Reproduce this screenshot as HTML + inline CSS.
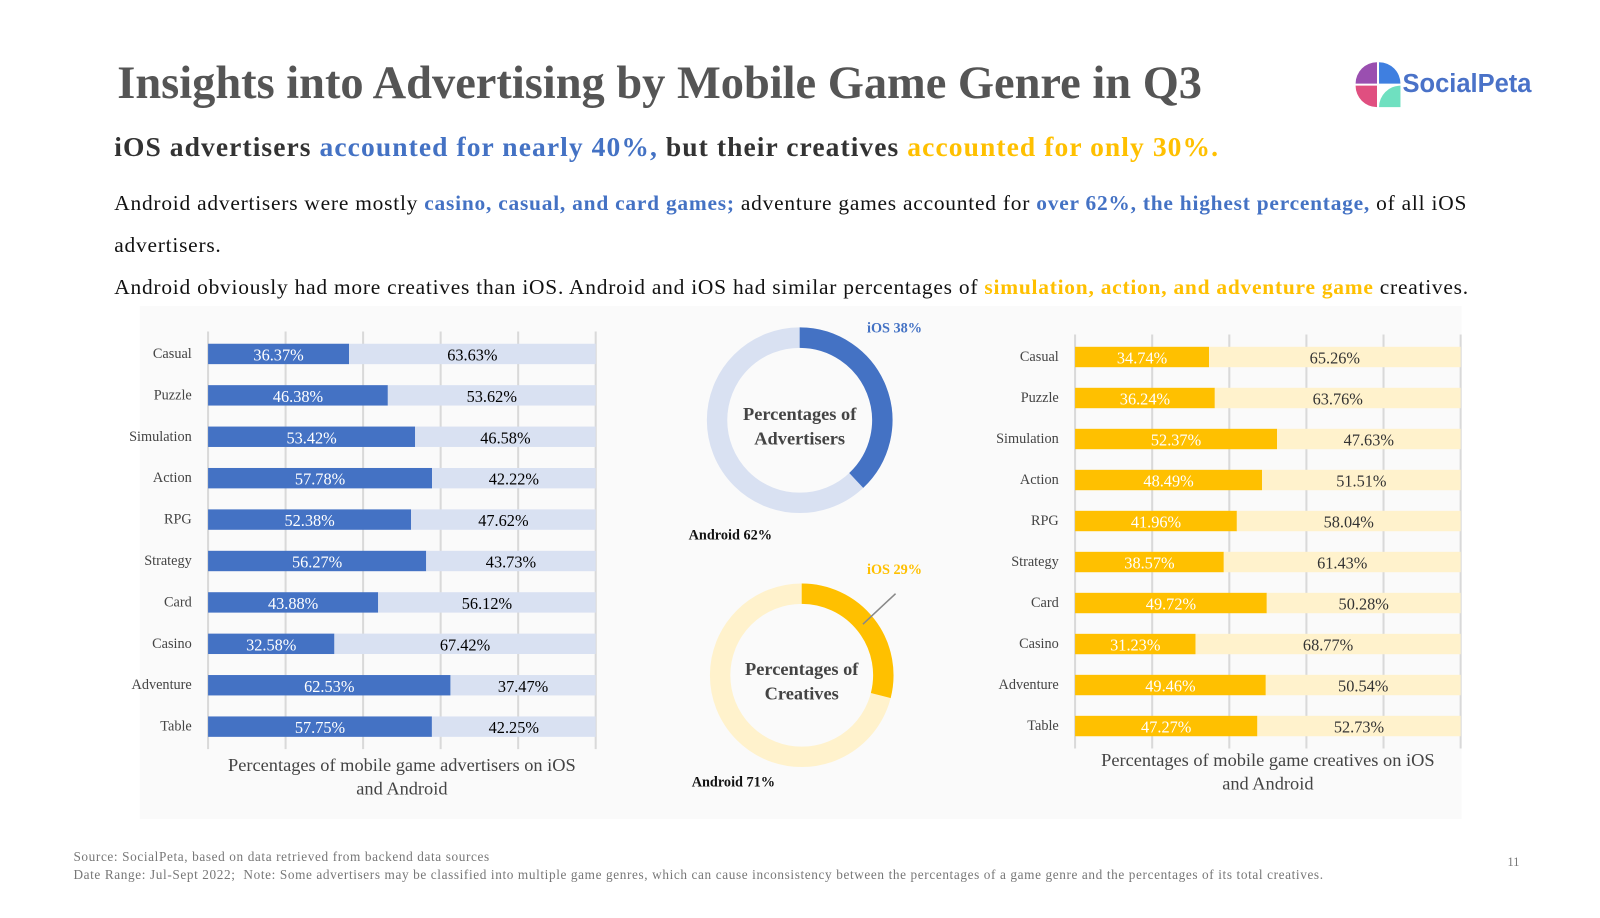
<!DOCTYPE html>
<html><head><meta charset="utf-8"><style>
body{margin:0;width:1600px;height:900px;background:#fff;font-family:"Liberation Serif",serif;overflow:hidden;position:relative}
#wrap{position:absolute;left:0;top:0;width:1600px;height:900px;transform:scale(1.02);transform-origin:0 0}
.abs{position:absolute}
.b{color:#4472c4}.y{color:#ffc000}
</style></head><body><div id="wrap">
<div class="abs" style="left:137px;top:300px;width:1296px;height:503px;background:#fafafa"></div>
<div class="abs" style="left:115px;top:54px;font-size:45.5px;font-weight:bold;color:#555">Insights into Advertising by Mobile Game Genre in Q3</div>
<div class="abs" style="left:1328px;top:60px;width:180px;height:46px">
<svg width="46" height="46" viewBox="0 0 46 46"><path d="M22 22V1A21 21 0 0 0 1 22Z" fill="#9a4fb0"/><path d="M24 22V1A21 21 0 0 1 45 22Z" fill="#3f7fe0"/><path d="M22 24H1A21 21 0 0 0 22 45Z" fill="#e04f80"/><path d="M24 24H45V45H24A21 21 0 0 1 45 24Z" fill="#6fe0c0"/></svg>
<span style="position:absolute;left:47px;top:8px;font-family:'Liberation Sans Narrow','Liberation Sans',sans-serif;font-weight:bold;font-size:25px;color:#4a72c8">SocialPeta</span></div>
<div class="abs" style="left:112px;top:129px;font-size:27px;letter-spacing:1.05px;font-weight:bold;color:#333">iOS advertisers <span class="b">accounted for nearly 40%,</span> but their creatives <span class="y">accounted for only 30%.</span></div>
<div class="abs" style="left:112px;top:179px;width:1360px;font-size:21px;letter-spacing:0.75px;line-height:41px;color:#111">Android advertisers were mostly <b class="b">casino, casual, and card games;</b> adventure games accounted for <b class="b">over 62%, the highest percentage,</b> of all iOS advertisers.<br>Android obviously had more creatives than iOS. Android and iOS had similar percentages of <b class="y">simulation, action, and adventure game</b> creatives.</div>
<svg class="abs" style="left:0;top:0" width="1600" height="900" id="svg"></svg>
<div class="abs" style="left:72px;top:831px;font-size:13px;letter-spacing:0.6px;color:#777;line-height:18px;white-space:nowrap">Source: SocialPeta, based on data retrieved from backend data sources<br>Date Range: Jul-Sept 2022;&nbsp; Note: Some advertisers may be classified into multiple game genres, which can cause inconsistency between the percentages of a game genre and the percentages of its total creatives.</div>
<div class="abs" style="left:1478px;top:838px;font-size:12px;color:#777">11</div>
</div>
<script>
const genres=["Casual","Puzzle","Simulation","Action","RPG","Strategy","Card","Casino","Adventure","Table"];
const advIOS=[36.37,46.38,53.42,57.78,52.38,56.27,43.88,32.58,62.53,57.75];
const creIOS=[34.74,36.24,52.37,48.49,41.96,38.57,49.72,31.23,49.46,47.27];
const advDonutIOS=38, creDonutIOS=29;
const NS="http://www.w3.org/2000/svg";const svg=document.getElementById('svg');
function el(t,a,p){const e=document.createElementNS(NS,t);for(const k in a)e.setAttribute(k,a[k]);(p||svg).appendChild(e);return e;}
function txt(x,y,s,o){const e=el('text',Object.assign({x:x,y:y,'font-family':'Liberation Serif, serif','font-size':15,'text-anchor':'middle','dominant-baseline':'central'},o||{}));e.textContent=s;return e;}
function bars(name,vals,x0,x1,y0,step,dark,light,labDark,labLight,ly,title){
  const sx=v=>x0+(x1-x0)*v/100;
  for(let i=0;i<=5;i++){const l=el('line',{x1:sx(i*20),x2:sx(i*20),y1:y0-22,y2:y0+step*9+22,stroke:'#d9d9d9','stroke-width':2});}
  vals.forEach((v,i)=>{const cy=y0+i*step;
    const a=el('rect',{x:x0,y:cy-10,width:sx(v)-x0,height:20,fill:dark});
    const b=el('rect',{x:sx(v),y:cy-10,width:x1-sx(v),height:20,fill:light});
    txt(x0-16,cy,genres[i],{'text-anchor':'end',fill:'#444','font-size':14});
    txt((x0+sx(v))/2,cy+1,v.toFixed(2)+'%',{fill:labDark,'font-size':16});
    txt((sx(v)+x1)/2,cy+1,(100-v).toFixed(2)+'%',{fill:labLight,'font-size':16});
  });
  txt((x0+x1)/2,ly,title[0],{fill:'#444','font-size':18});txt((x0+x1)/2,ly+23,title[1],{fill:'#444','font-size':18});
}
bars('advertisers',advIOS,204,584,347,40.6,'#4472c4','#d9e1f2','#fff','#000',750,['Percentages of mobile game advertisers on iOS','and Android']);
bars('creatives',creIOS,1054,1432,350,40.2,'#ffc000','#fff2cc','#fff','#333',745,['Percentages of mobile game creatives on iOS','and Android']);
function donut(name,cx,cy,r,w,v,dark,light,l1,l2,iosLab,andLab){
  const c=el('circle',{cx:cx,cy:cy,r:r,fill:'none',stroke:light,'stroke-width':w});
  const a=v/100*2*Math.PI,x=cx+r*Math.sin(a),y=cy-r*Math.cos(a);
  const p=el('path',{d:`M${cx} ${cy-r}A${r} ${r} 0 ${v>50?1:0} 1 ${x} ${y}`,fill:'none',stroke:dark,'stroke-width':w});
  txt(cx,cy-6,l1,{fill:'#444','font-size':18,'font-weight':'bold'});txt(cx,cy+18,l2,{fill:'#444','font-size':18,'font-weight':'bold'});
  txt(iosLab[0],iosLab[1],'iOS '+v+'%',{fill:dark,'font-size':14,'font-weight':'bold'});
  txt(andLab[0],andLab[1],'Android '+(100-v)+'%',{fill:'#111','font-size':14,'font-weight':'bold'});
}
donut('advertisers-donut',784,412,81,20,advDonutIOS,'#4472c4','#d9e1f2','Percentages of','Advertisers',[877,322],[716,525]);
donut('creatives-donut',786,662,80,20,creDonutIOS,'#ffc000','#fff2cc','Percentages of','Creatives',[877,559],[719,767]);
el('line',{x1:846,x2:878,y1:612,y2:582,stroke:'#888','stroke-width':1.5});
</script>
</body></html>
